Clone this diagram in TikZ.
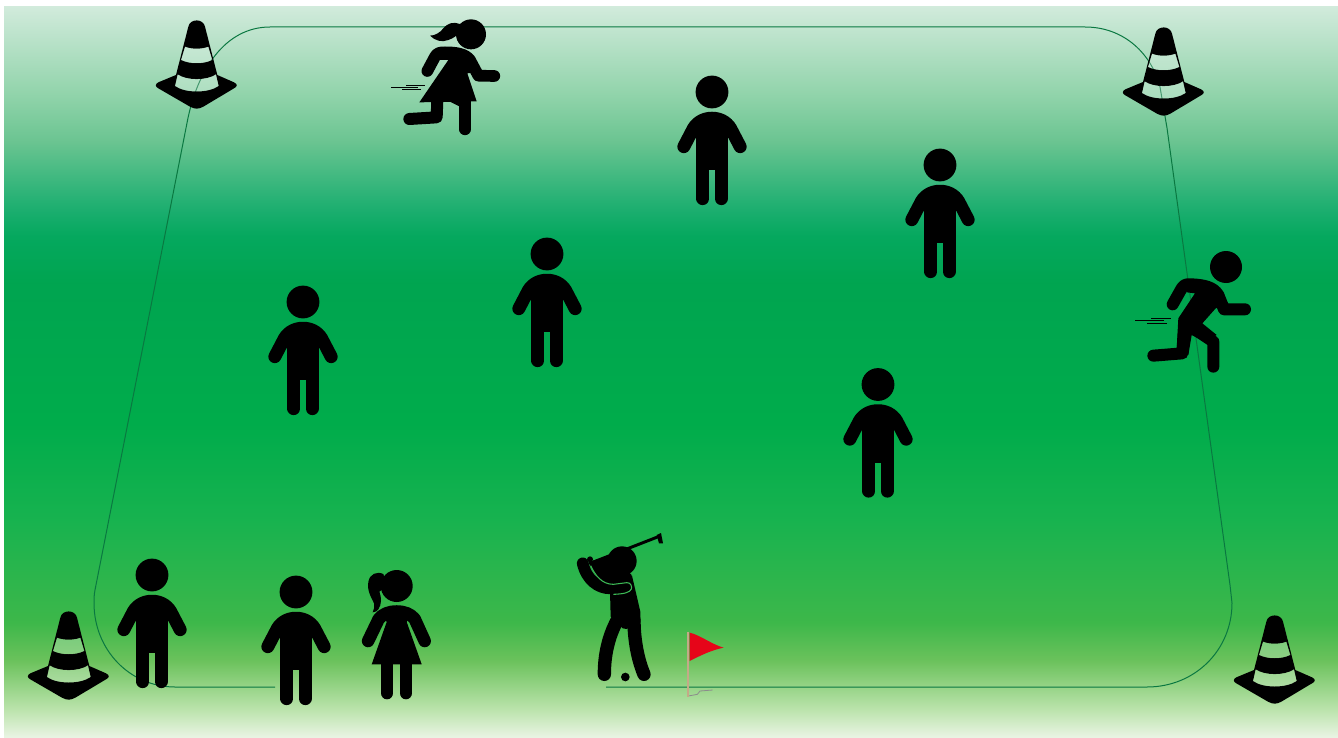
\documentclass[tikz,border=0pt]{standalone}
\pgfdeclareverticalshading{fieldgrad}{100bp}{
rgb(0bp)=(0.92,0.96,0.90);
rgb(25bp)=(0.92,0.96,0.90);
rgb(27bp)=(0.73,0.89,0.67);
rgb(30.3bp)=(0.42,0.76,0.36);
rgb(32.9bp)=(0.24,0.72,0.29);
rgb(40bp)=(0.09,0.70,0.31);
rgb(46.5bp)=(0,0.675,0.294);
rgb(56.12bp)=(0,0.645,0.314);
rgb(59.34bp)=(0.02,0.66,0.37);
rgb(60.98bp)=(0.10,0.68,0.43);
rgb(62.62bp)=(0.20,0.71,0.48);
rgb(65.83bp)=(0.42,0.77,0.57);
rgb(69.05bp)=(0.57,0.83,0.67);
rgb(75bp)=(0.82,0.92,0.86);
rgb(100bp)=(0.82,0.92,0.86)}
\definecolor{pathgreen}{RGB}{10,120,65}
\definecolor{flagred}{RGB}{230,5,25}
\definecolor{poletan}{RGB}{196,170,135}
\definecolor{seam}{RGB}{60,185,85}
\tikzset{
 fig/.style={line cap=round,line join=round,draw=black},
 zoomed/.style={x=0.25pt,y=-0.25pt},
 person/.pic={
  \draw[fig,line width=9.7pt] (-28.2,54.7) -- (-20,39) .. controls (-17,32) and (-10,26.2) .. (0,26.2) .. controls (10,26.2) and (17,32) .. (20,39) -- (28.2,54.7);
  \fill[black] (-15.7,26) rectangle (15.7,78);
  \fill[black] (0,0) circle (16.4);
  \draw[fig,line width=9.8pt] (-9.2,60) -- (-9.2,106.6);
  \draw[fig,line width=9.8pt] (9.2,60) -- (9.2,106.6);
  \fill[black] (-15.7,60) rectangle (-2.6,78);
  \fill[black] (2.6,60) rectangle (15.7,78);
 },
 cone/.pic={
  \begin{scope}[zoomed]
  \fill[black,even odd rule] (145,65) .. controls (150,40) and (190,40) .. (195,65) -- (232,210) -- (282,232) .. controls (293,237) and (293,245) .. (282,250) -- (190,305) .. controls (175,313) and (165,313) .. (150,305) -- (55,250) .. controls (45,245) and (45,237) .. (55,232) -- (108,210) -- cycle
   (135,125) .. controls (155,133) and (185,133) .. (205,125) -- (217,165) .. controls (190,178) and (150,178) .. (123,165) -- cycle
   (113,208) .. controls (140,227) and (200,227) .. (228,208) -- (236,243) .. controls (205,265) and (135,265) .. (105,243) -- cycle;
  \fill[white,opacity=.25] (135,125) .. controls (155,133) and (185,133) .. (205,125) -- (217,165) .. controls (190,178) and (150,178) .. (123,165) -- cycle
   (113,208) .. controls (140,227) and (200,227) .. (228,208) -- (236,243) .. controls (205,265) and (135,265) .. (105,243) -- cycle;
  \end{scope}
 }
}
\begin{document}
\begin{tikzpicture}[x=0.75pt,y=-0.75pt]
\useasboundingbox (0,0) rectangle (1338,738);
\fill[white] (0,0) rectangle (1338,738);
\shade[shading=fieldgrad] (4,7) rectangle (1338,738);
% field outline
\draw[pathgreen,line width=0.75pt] (606,687) -- (1147,687) .. controls (1195,687) and (1232,650) .. (1232,603) -- (1230,585) -- (1167,128) -- (1160,87) .. controls (1152,55) and (1125,27) .. (1085,27) -- (270,27) .. controls (225,27) and (197,70) .. (187,123) -- (95,590) .. controls (94,595) and (94,599) .. (94,603) .. controls (94,650) and (130,687) .. (175,687) -- (275,687);
% cones
\pic at (140,5) {cone};
\pic at (1107,12) {cone};
\pic at (12,596) {cone};
\pic at (1218,600) {cone};
% standing people
\pic at (712,92) {person};
\pic at (940,165) {person};
\pic at (547,254) {person};
\pic at (303,302) {person};
\pic at (878,384.5) {person};
\pic at (152,575) {person};
\pic at (296,592) {person};
% standing girl
\begin{scope}[shift={(396.7,586)}]
 \fill[black] (0,0) circle (16);
 \fill[black] (-13.3,-12) .. controls (-20,-15) and (-27,-12) .. (-28.3,-4.3) .. controls (-30,5) and (-25,12) .. (-22.7,17.3) .. controls (-22,21) and (-23,24) .. (-24,26.3) .. controls (-21,26) and (-19,25) .. (-18.3,23.3) .. controls (-15,18) and (-15,12) .. (-17.3,5.7) -- (-10,0) -- cycle;
 \draw[fig,line width=9.4pt] (-28.6,55) -- (-18,33) .. controls (-14,28) and (-8,25.5) .. (0,25.5) .. controls (8,25.5) and (14,28) .. (18,33) -- (28,55);
 \fill[black] (-16,24) -- (16,24) -- (10,36) -- (25,78.3) -- (-25,78.3) -- (-10,36) -- cycle;
 \draw[fig,line width=9.5pt] (-9.6,70) -- (-9.6,107);
 \draw[fig,line width=9.5pt] (9.2,70) -- (9.2,107);
\end{scope}
% running girl
\begin{scope}[shift={(380,10)},zoomed]
 \fill[black] (273,73) circle (45);
 \fill[black] (240,42) .. controls (220,35) and (205,38) .. (190,55) .. controls (180,68) and (165,77) .. (150,77) .. controls (165,92) and (185,98) .. (205,90) .. controls (218,85) and (228,80) .. (235,70) -- cycle;
 \draw[fig,line width=8.75pt] (142,183) -- (165,140) .. controls (172,128) and (180,127) .. (195,127) .. controls (225,127) and (255,130) .. (270,150) -- (295,197) -- (343,198);
 \fill[black] (180,115) -- (240,115) -- (300,185) -- (262,190) -- (290,274) -- (118,277) -- (205,150) -- (180,150) -- cycle;
 \draw[fig,line width=9pt] (172,270) -- (170,322) -- (88,327);
 \draw[fig,line width=8.75pt] (255,275) -- (255,358);
 \fill[black] (200,270) -- (240,290) -- (272,270) -- cycle;
 \draw[black,line width=0.7pt,line cap=butt] (33,232) -- (113,232) (78,226) -- (135,226) (66,238) -- (123,238);
\end{scope}
% running man
\begin{scope}[shift={(1125,240)},zoomed]
 \fill[black] (303,81) circle (48);
 \draw[fig,line width=9pt] (143,193) -- (170,145) .. controls (178,133) and (185,132) .. (200,133) .. controls (235,135) and (265,140) .. (280,165) -- (297,208) -- (360,208);
 \fill[black] (180,118) -- (250,125) -- (310,190) -- (272,205) -- (232,250) -- (275,285) -- (240,305) -- (200,285) -- (190,345) -- (155,325) -- (160,235) -- (210,160) -- (185,157) -- cycle;
 \draw[fig,line width=9pt] (180,240) -- (172,340) -- (85,347);
 \draw[fig,line width=9pt] (205,265) -- (265,305) -- (265,380);
 \draw[black,line width=0.7pt,line cap=butt] (30,241) -- (118,241) (78,235) -- (138,235) (66,250) -- (126,250);
\end{scope}
% golfer
\begin{scope}[shift={(560,525)},zoomed]
 \draw[black,line width=2.2pt,line cap=butt] (90,115) -- (295,35);
 \fill[black] (290,30) -- (303,24) -- (309,55) -- (297,55) -- cycle;
 \fill[black] (90,103) circle (9);
 \fill[black] (186,108) circle (44);
 \fill[black] (85,112) -- (150,90) -- (215,150) -- (210,178) -- (160,185) -- (115,165) -- cycle;
 \draw[fig,line width=8.75pt] (68,115) .. controls (80,165) and (115,190) .. (150,190) -- (195,190);
 \fill[black] (150,200) -- (216,152) -- (241,260) -- (241,292) -- (200,312) -- (188,310) -- (152,275) -- cycle;
 \draw[fig,line width=10pt] (172,285) .. controls (145,335) and (133,390) .. (133,448);
 \draw[fig,line width=10pt] (222,285) .. controls (222,340) and (232,400) .. (252,448);
 \draw[seam,line width=0.8pt] (92,122) .. controls (105,150) and (125,178) .. (160,178) -- (200,173) .. controls (212,172) and (217,185) .. (214,192) .. controls (210,203) and (190,207) .. (160,208);
 \fill[black] (196,456) circle (13);
 % flag
 \draw[black!45,line width=0.6pt,line cap=butt] (385,513) -- (412,508) -- (420,498) -- (458,495);
 \draw[poletan,line width=1.6pt,line cap=butt] (384,322) -- (384,515);
 \fill[flagred] (389,323) .. controls (420,330) and (455,358) .. (491,368) .. controls (455,375) and (420,392) .. (389,408) -- cycle;
\end{scope}
\end{tikzpicture}
\end{document}
